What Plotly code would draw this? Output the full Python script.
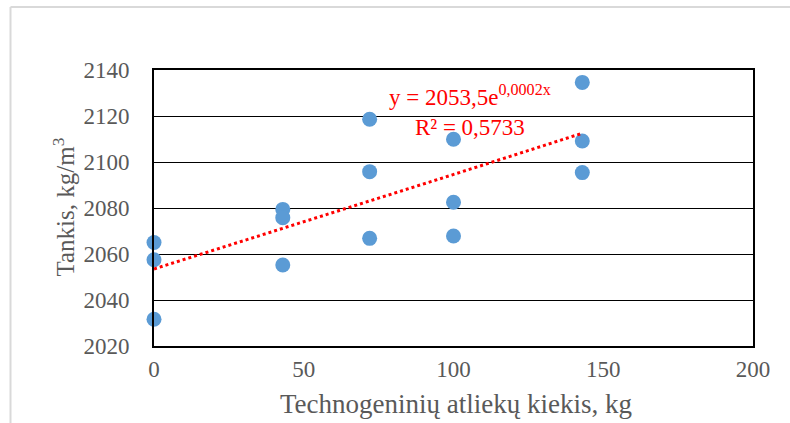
import numpy as np
import plotly.graph_objects as go

# Data
x_kiekis = [0, 0, 0, 43, 43, 43, 72, 72, 72, 100, 100, 100, 143, 143, 143]
y_tankis = [2065.0, 2057.5, 2031.6, 2079.4, 2075.8, 2055.2, 2118.6, 2095.8, 2066.8,
            2109.9, 2082.5, 2067.8, 2134.6, 2109.1, 2095.4]
x_ticks = [0, 50, 100, 150, 200]
y_ticks = [2020, 2040, 2060, 2080, 2100, 2120, 2140]
eq_text = "y = 2053,5e<sup>0,0002x</sup><br>R² = 0,5733"

# Exponential trendline (Excel style: linear fit on ln y)
xa = np.array(x_kiekis, dtype=float)
ya = np.array(y_tankis, dtype=float)
b, lna = np.polyfit(xa, np.log(ya), 1)
xt = np.linspace(xa.min(), xa.max(), 60)
yt = np.exp(lna) * np.exp(b * xt)

gray = "#595959"
font_serif = "Liberation Serif, Times New Roman, serif"

fig = go.Figure()
fig.add_trace(go.Scatter(
    x=x_kiekis, y=y_tankis, mode="markers",
    marker=dict(color="#5B9BD5", size=15, line=dict(width=0)),
    cliponaxis=False, showlegend=False))
fig.add_trace(go.Scatter(
    x=xt, y=yt, mode="lines",
    line=dict(color="#FF0000", width=3, dash="dot"),
    cliponaxis=False, showlegend=False))

fig.update_layout(
    width=790, height=423,
    margin=dict(l=154, r=37, t=70, b=77),
    paper_bgcolor="white", plot_bgcolor="white",
    font=dict(family=font_serif, color=gray, size=22),
    xaxis=dict(range=[0, 200], tickvals=x_ticks, showgrid=False, zeroline=False,
               showline=True, linecolor="black", linewidth=2, mirror=True,
               ticks="", tickfont=dict(size=23, color=gray, family=font_serif),
               ticklabelstandoff=1),
    yaxis=dict(range=[2020, 2140], tickvals=y_ticks, showgrid=True,
               gridcolor="black", gridwidth=1.3, zeroline=False,
               showline=True, linecolor="black", linewidth=2, mirror=True,
               ticks="", tickfont=dict(size=23, color=gray, family=font_serif),
               ticklabelstandoff=18),
    annotations=[
        dict(text=eq_text, x=105.5, y=2122.2, xref="x", yref="y",
             showarrow=False, align="center",
             font=dict(size=23, color="#FF0000", family=font_serif)),
        dict(text="Technogeninių atliekų kiekis, kg", x=(456 - 154) / 599,
             y=-(404 - 346) / 276, xref="paper", yref="paper", showarrow=False,
             xanchor="center", yanchor="middle",
             font=dict(size=27, color=gray, family=font_serif)),
        dict(text="Tankis, kg/m<sup>3</sup>", x=(63 - 154) / 599,
             y=(346 - 207.5) / 276, xref="paper", yref="paper", showarrow=False,
             xanchor="center", yanchor="middle", textangle=-90,
             font=dict(size=25, color=gray, family=font_serif)),
    ],
    shapes=[
        dict(type="line", xref="paper", yref="paper",
             x0=(10.5 - 154) / 599, x1=(800 - 154) / 599,
             y0=(346 - 7) / 276, y1=(346 - 7) / 276,
             line=dict(color="#D9D9D9", width=2)),
        dict(type="line", xref="paper", yref="paper",
             x0=(10.5 - 154) / 599, x1=(10.5 - 154) / 599,
             y0=(346 - 7) / 276, y1=(346 - 430) / 276,
             line=dict(color="#D9D9D9", width=2)),
    ],
)

fig.write_html("out.html")
